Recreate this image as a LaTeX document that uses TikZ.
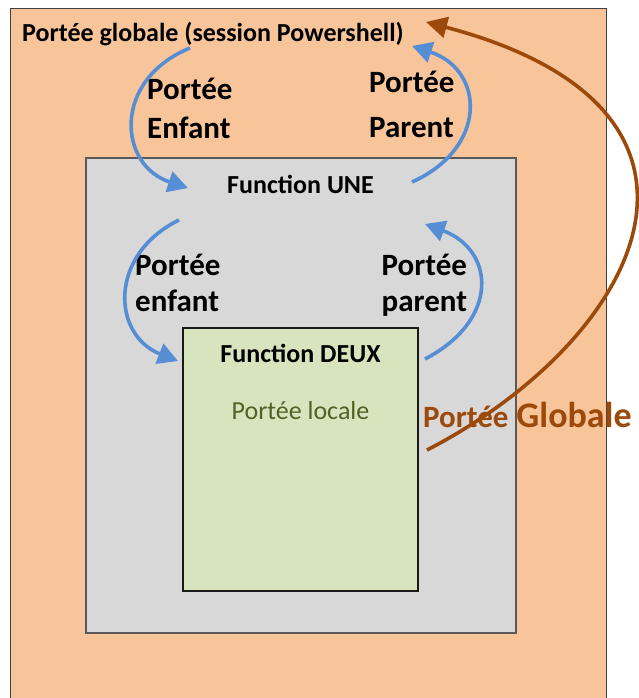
\documentclass[tikz,border=0pt]{standalone}
\usepackage{fontspec}
\setmainfont{Carlito}
\usetikzlibrary{arrows.meta}
\definecolor{peach}{HTML}{F8C49A}
\definecolor{greybox}{HTML}{D8D8D8}
\definecolor{greenbox}{HTML}{D7E4BD}
\definecolor{bluearr}{HTML}{558ED5}
\definecolor{brownarr}{HTML}{9C4A0B}
\definecolor{olivetxt}{HTML}{4F6228}
\tikzset{
  boxstyle/.style={draw, inner sep=0pt, outer sep=0pt},
  bluearrow/.style={draw=bluearr, line width=3.6pt, -{Triangle[length=20pt,width=21pt]}},
  brownarrow/.style={draw=brownarr, line width=3.6pt, -{Triangle[length=21pt,width=21pt]}},
  lbl/.style={font=\bfseries\fontsize{31}{37}\selectfont, anchor=base west, inner sep=0pt},
  ttl/.style={font=\bfseries\fontsize{26}{30}\selectfont, anchor=base, inner sep=0pt}
}
\begin{document}
\begin{tikzpicture}[x=1pt,y=-1pt]
\useasboundingbox (0,0) rectangle (639,698);
\fill[white] (0,0) rectangle (639,698);
\begin{scope}
\clip (0,0) rectangle (639,698);
% boxes
\node[boxstyle, draw=black!75, line width=0.8pt, fill=peach, minimum width=596pt, minimum height=700pt, anchor=north west] (global) at (10,8) {};
\node[boxstyle, draw=black!65, line width=1.2pt, fill=greybox, minimum width=430pt, minimum height=475pt, anchor=north west] (une) at (86,158) {};
\node[boxstyle, draw=black!90, line width=1.2pt, fill=greenbox, minimum width=235pt, minimum height=263pt, anchor=north west] (deux) at (183,328) {};
% titles
\node[font=\bfseries\fontsize{26}{30}\selectfont, anchor=base west, inner sep=0pt] (tglobal) at (22,42) {Portée globale (session Powershell)};
\node[ttl] (tune) at (300.5,193) {Function UNE};
\node[ttl] (tdeux) at (300.5,362) {Function DEUX};
\node[font=\fontsize{26}{30}\selectfont, text=olivetxt, anchor=base, inner sep=0pt] (tlocal) at (300.5,419) {Portée locale};
% labels
\node[lbl] (l1a) at (147,100) {Portée};
\node[lbl] (l1b) at (147,138) {Enfant};
\node[lbl] (l2a) at (369,93) {Portée};
\node[lbl] (l2b) at (369,137) {Parent};
\node[lbl] (l3a) at (135,275) {Portée};
\node[lbl] (l3b) at (135,311.5) {enfant};
\node[lbl] (l4a) at (381.5,275) {Portée};
\node[lbl] (l4b) at (381.5,311.5) {parent};
\node[font=\bfseries\fontsize{31}{37}\selectfont, text=brownarr, anchor=base west, inner sep=0pt] (lg) at (423,427) {Portée\hspace{8pt}\fontsize{36}{40}\selectfont Globale};
% arrow end points
\coordinate (a1s) at (190,48);
\coordinate (a1e) at (188,188);
\coordinate (a2s) at (412,182);
\coordinate (a2e) at (412,46);
\coordinate (a3s) at (179,220);
\coordinate (a3e) at (178,361);
\coordinate (a4s) at (425,359);
\coordinate (a4e) at (425,224);
\coordinate (bs) at (427,450);
\coordinate (be) at (426,22);
% arrows
\draw[bluearrow] (a1s) .. controls (112,80) and (118,165) .. (a1e);
\draw[bluearrow] (a2s) .. controls (488,148) and (485,70) .. (a2e);
\draw[bluearrow] (a3s) .. controls (108,255) and (112,335) .. (a3e);
\draw[bluearrow] (a4s) .. controls (500,320) and (495,250) .. (a4e);
\draw[brownarrow] (bs) .. controls (640,340) and (760,110) .. (be);
\end{scope}
\end{tikzpicture}
\end{document}
